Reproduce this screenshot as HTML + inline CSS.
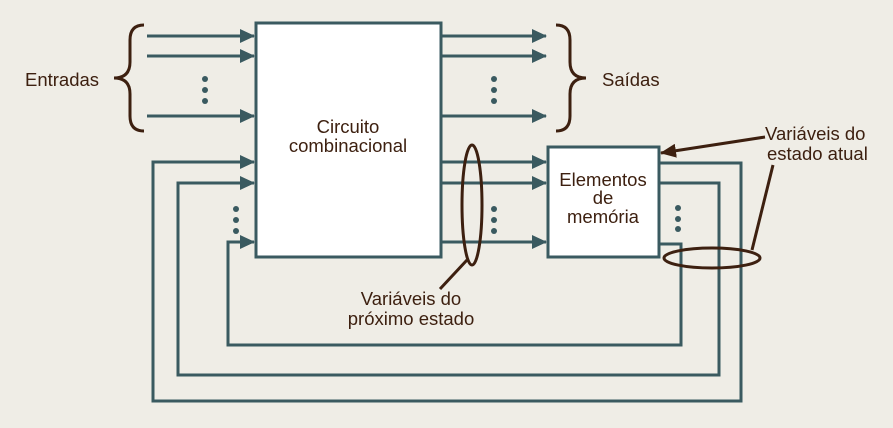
<!DOCTYPE html>
<html><head><style>body{margin:0;background:#efede6}svg{display:block}text{font-family:"Liberation Sans",sans-serif;font-size:18.5px;fill:#3d2010}</style></head><body>
<svg width="893" height="428" viewBox="0 0 893 428">
<defs><marker id="a" markerWidth="16" markerHeight="14" refX="14" refY="7" orient="auto" markerUnits="userSpaceOnUse"><path d="M0,0L15,7L0,14z" fill="#3a5a60"/></marker>
<marker id="b" markerWidth="16" markerHeight="14" refX="15" refY="7" orient="auto" markerUnits="userSpaceOnUse"><path d="M0,0L16,7L0,14z" fill="#3d2010"/></marker></defs>
<g stroke="#3a5a60" stroke-width="3" fill="none">
<rect x="256" y="23" width="185" height="234" fill="#fff"/>
<rect x="548" y="147" width="111" height="110" fill="#fff"/>
<g marker-end="url(#a)">
<path d="M147 36H254"/><path d="M147 56H254"/><path d="M147 116H254"/>
<path d="M441 36H546"/><path d="M441 56H546"/><path d="M441 116H546"/>
<path d="M441 162H546"/><path d="M441 183H546"/><path d="M441 242H546"/>
<path d="M659 163H741V401H153V162H254"/>
<path d="M659 183H719V375H178V183H254"/>
<path d="M659 244H681V345H228V242H254"/>
</g></g>
<g fill="#3a5a60">
<circle cx="205" cy="79" r="3"/><circle cx="205" cy="90" r="3"/><circle cx="205" cy="101" r="3"/>
<circle cx="494" cy="79" r="3"/><circle cx="494" cy="90" r="3"/><circle cx="494" cy="101" r="3"/>
<circle cx="236" cy="209" r="3"/><circle cx="236" cy="220" r="3"/><circle cx="236" cy="231" r="3"/>
<circle cx="494" cy="209" r="3"/><circle cx="494" cy="220" r="3"/><circle cx="494" cy="231" r="3"/>
<circle cx="678" cy="208" r="3"/><circle cx="678" cy="219" r="3"/><circle cx="678" cy="229" r="3"/>
</g>
<g stroke="#3d2010" stroke-width="3" fill="none">
<path d="M144 25Q130 25 130 40V62Q130 78 114 78Q130 78 130 94V116Q130 131 144 131"/>
<path d="M556 25Q570 25 570 40V62Q570 78 586 78Q570 78 570 94V116Q570 131 556 131"/>
<ellipse cx="472" cy="205" rx="10" ry="60"/>
<ellipse cx="712" cy="258" rx="48" ry="10"/>
<path d="M467 260L440 289M752 250L773 165"/>
<path d="M765 137L661 153" marker-end="url(#b)"/>
</g>
<text x="25" y="86">Entradas</text>
<text x="602" y="86">Saídas</text>
<text x="348" y="133" text-anchor="middle">Circuito</text>
<text x="348" y="152" text-anchor="middle">combinacional</text>
<text x="603" y="186" text-anchor="middle">Elementos</text>
<text x="603" y="204" text-anchor="middle">de</text>
<text x="603" y="223" text-anchor="middle">memória</text>
<text x="765" y="140">Variáveis do</text>
<text x="767" y="160">estado atual</text>
<text x="411" y="305" text-anchor="middle">Variáveis do</text>
<text x="411" y="325" text-anchor="middle">próximo estado</text>
</svg></body></html>
